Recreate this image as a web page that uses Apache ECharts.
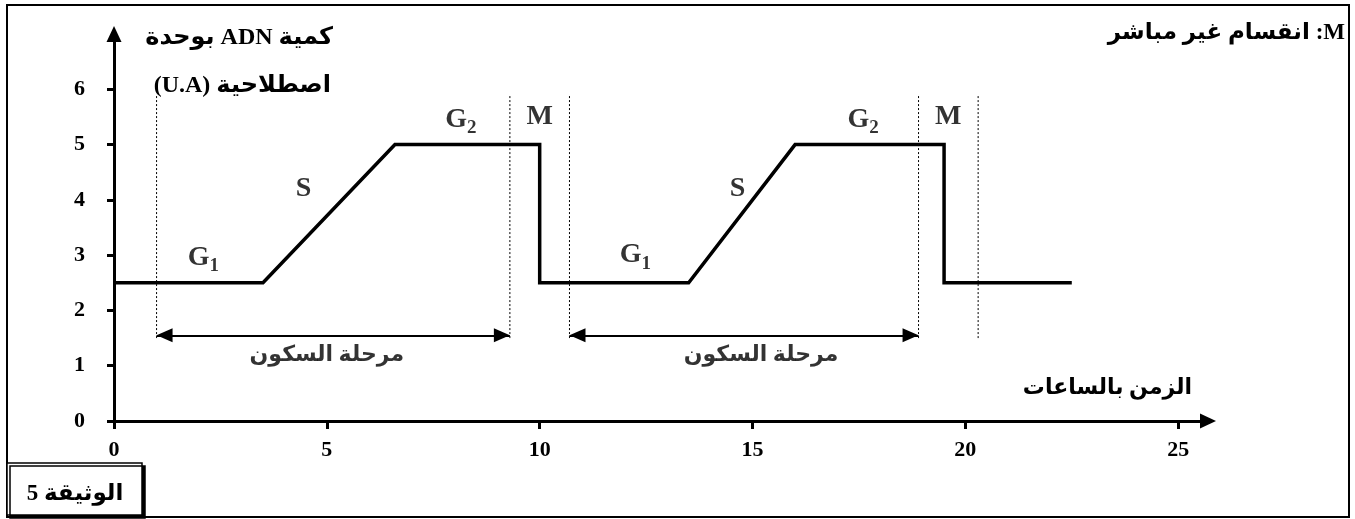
<!DOCTYPE html>
<html>
<head>
<meta charset="utf-8">
<script src="https://cdn.jsdelivr.net/npm/echarts@6/dist/echarts.min.js"></script>
<style>
  html, body { margin: 0; padding: 0; background: #fff; }
  #chart { width: 1355px; height: 519px; }
</style>
</head>
<body>
<div id="chart"></div>
<script>
// courbe de la quantite d'ADN (temps en heures, quantite en U.A)
var dnaTime = [0, 3.5, 6.6, 10, 10, 13.5, 16, 19.5, 19.5, 22.5];
var dnaAmount = [2.5, 2.5, 5, 5, 2.5, 2.5, 5, 5, 2.5, 2.5];

// lignes pointillees verticales (limites des phases)
var guideTimes = [1, 9.3, 10.7, 18.9, 20.3];
var guideFrom = 1.5;
var guideTo = 5.9;

// fleches "interphase"
var restStart = [1, 10.7];
var restEnd = [9.3, 18.9];
var restLevel = 1.55;
var restLabelX = [5.0, 15.2];
var restLabelY = 1.18;
var restText = 'مرحلة السكون';

// noms des phases
var phaseNames = ['G1', 'S', 'G2', 'M', 'G1', 'S', 'G2', 'M'];
var phaseX = [2.1, 4.45, 8.15, 10.0, 12.25, 14.65, 17.6, 19.6];
var phaseY = [2.95, 4.2, 5.45, 5.5, 3.0, 4.2, 5.45, 5.5];

var xTicks = [0, 5, 10, 15, 20, 25];
var yTicks = [0, 1, 2, 3, 4, 5, 6];

var FONT = "'Liberation Serif', 'DejaVu Sans', serif";

// texte arabe mixte : on force un ordre de droite a gauche
function rtl(s) { return '\u202B' + s + '\u202C'; }

var chart = echarts.init(document.getElementById('chart'));

var curve = dnaTime.map(function (t, i) { return [t, dnaAmount[i]]; });

var guideSeries = guideTimes.map(function (t) {
  return {
    type: 'line',
    data: [[t, guideFrom], [t, guideTo]],
    symbol: 'none',
    silent: true,
    lineStyle: { color: '#000', width: 1, type: [2, 2] },
    z: 1
  };
});

var arrows = restStart.map(function (s, i) {
  return [{ coord: [s, restLevel] }, { coord: [restEnd[i], restLevel] }];
});

var phasePoints = phaseNames.map(function (n, i) { return [phaseX[i], phaseY[i], n]; });
var restPoints = restLabelX.map(function (x) { return [x, restLabelY, restText]; });

var option = {
  animation: false,
  backgroundColor: '#fff',
  grid: { left: 114, right: 147, top: 34, bottom: 98 },
  xAxis: {
    type: 'value',
    min: 0,
    max: 25.7,
    splitLine: { show: false },
    axisLine: {
      lineStyle: { color: '#000', width: 3 },
      symbol: ['none', 'triangle'],
      symbolSize: [15, 16]
    },
    axisTick: { customValues: xTicks, length: 8, lineStyle: { color: '#000', width: 3 } },
    axisLabel: {
      customValues: xTicks,
      margin: 18,
      color: '#000',
      fontFamily: FONT,
      fontWeight: 'bold',
      fontSize: 22
    }
  },
  yAxis: {
    type: 'value',
    min: 0,
    max: 7,
    splitLine: { show: false },
    axisLine: {
      lineStyle: { color: '#000', width: 3 },
      symbol: ['none', 'triangle'],
      symbolSize: [15, 16]
    },
    axisTick: { customValues: yTicks, length: 7, lineStyle: { color: '#000', width: 3 } },
    axisLabel: {
      customValues: yTicks,
      margin: 29,
      color: '#000',
      fontFamily: FONT,
      fontWeight: 'bold',
      fontSize: 22
    }
  },
  series: [
    {
      type: 'line',
      data: curve,
      symbol: 'none',
      lineStyle: { color: '#000', width: 3.5, join: 'miter' },
      z: 3,
      markLine: {
        silent: true,
        symbol: ['triangle', 'triangle'],
        symbolSize: [14, 16],
        symbolOffset: [[0, 8], [0, 8]],
        lineStyle: { color: '#000', width: 2, type: 'solid' },
        label: { show: false },
        data: arrows
      }
    },
    {
      type: 'scatter',
      data: phasePoints,
      symbolSize: 0,
      itemStyle: { color: '#000' },
      silent: true,
      label: {
        show: true,
        position: 'inside',
        color: '#000',
        fontWeight: 'bold',
        formatter: function (p) {
          var n = p.data[2];
          return n.length > 1 ? '{g|' + n.charAt(0) + '}{s|' + n.slice(1) + '}' : '{g|' + n + '}';
        },
        rich: {
          g: { fontFamily: FONT, fontWeight: 'bold', fontSize: 28, color: '#000', lineHeight: 30 },
          s: { fontFamily: FONT, fontWeight: 'bold', fontSize: 19, color: '#000', lineHeight: 36, verticalAlign: 'bottom' }
        }
      }
    },
    {
      type: 'scatter',
      data: restPoints,
      symbolSize: 0,
      itemStyle: { color: '#000' },
      silent: true,
      label: {
        show: true,
        position: 'inside',
        formatter: function (p) { return p.data[2]; },
        fontFamily: FONT,
        fontWeight: 'bold',
        fontSize: 22,
        color: '#000'
      }
    }
  ].concat(guideSeries),
  graphic: [
    {
      type: 'rect',
      shape: { x: 7, y: 5, width: 1342, height: 512 },
      style: { fill: 'none', stroke: '#000', lineWidth: 2 },
      silent: true
    },
    {
      type: 'rect',
      shape: { x: 7, y: 463, width: 135, height: 52 },
      style: { fill: '#fff', stroke: '#000', lineWidth: 1.5, shadowColor: '#000', shadowOffsetX: 3, shadowOffsetY: 3, shadowBlur: 0 },
      silent: true
    },
    {
      type: 'text',
      style: { text: rtl('الوثيقة 5'), x: 75, y: 494, textAlign: 'center', textVerticalAlign: 'middle', font: 'bold 23px ' + FONT, fill: '#000' }
    },
    {
      type: 'text',
      style: { text: rtl('كمية ADN بوحدة'), x: 333, y: 38, textAlign: 'right', textVerticalAlign: 'middle', font: 'bold 24px ' + FONT, fill: '#000' }
    },
    {
      type: 'text',
      style: { text: rtl('اصطلاحية (U.A)'), x: 331, y: 86, textAlign: 'right', textVerticalAlign: 'middle', font: 'bold 24px ' + FONT, fill: '#000' }
    },
    {
      type: 'text',
      style: { text: rtl('M: انقسام غير مباشر'), x: 1345, y: 33, textAlign: 'right', textVerticalAlign: 'middle', font: 'bold 23px ' + FONT, fill: '#000' }
    },
    {
      type: 'text',
      style: { text: 'الزمن بالساعات', x: 1192, y: 388, textAlign: 'right', textVerticalAlign: 'middle', font: 'bold 22px ' + FONT, fill: '#000' }
    }
  ]
};

chart.setOption(option);
</script>
</body>
</html>
